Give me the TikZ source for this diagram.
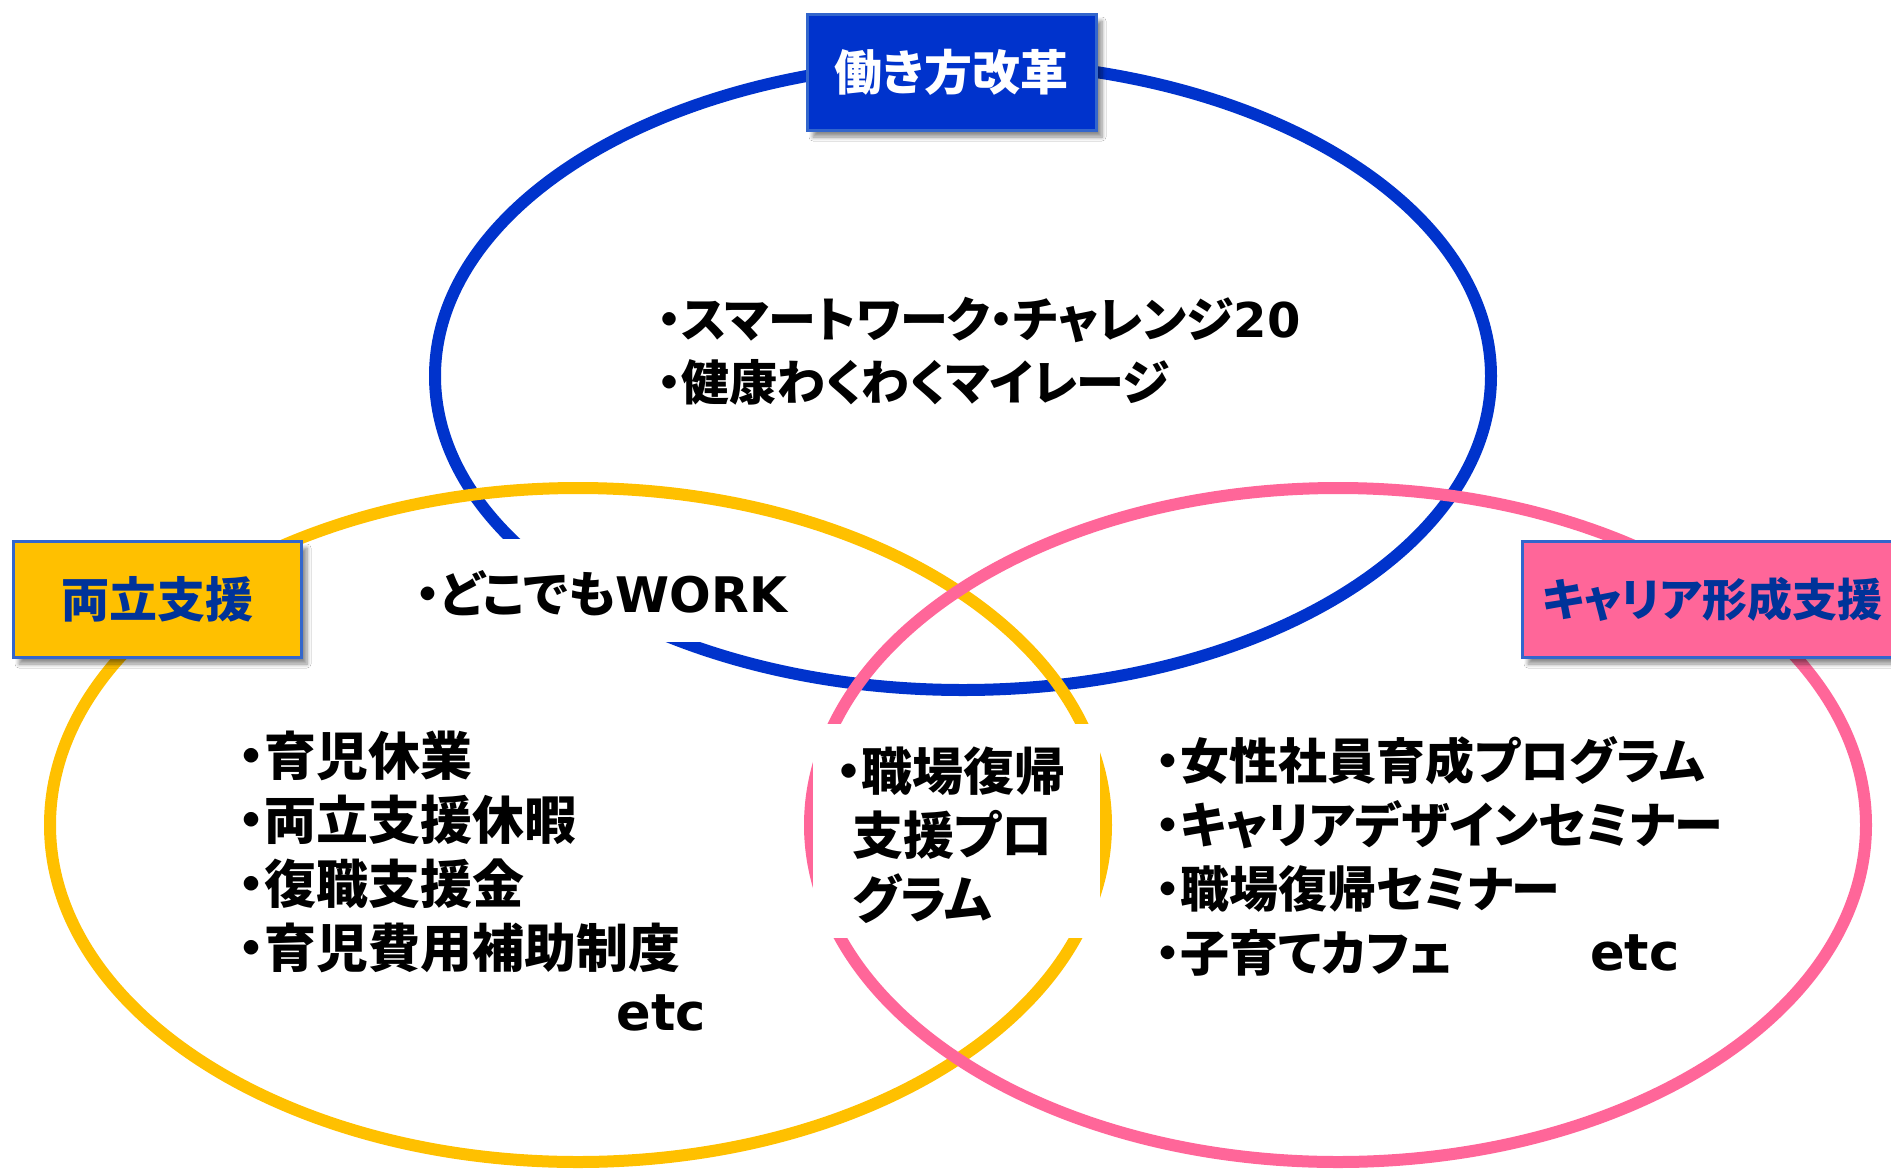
\documentclass[tikz,border=0pt]{standalone}
\usepackage{fontspec}
\setmainfont{Noto Sans CJK JP}[RawFeature=+palt]
\newfontfamily\lat{DejaVu Sans}
\usetikzlibrary{shapes.geometric,shadows.blur}
\definecolor{wblue}{HTML}{0033CC}
\definecolor{ryellow}{HTML}{FFC000}
\definecolor{cpink}{HTML}{FF6699}
\definecolor{edgeblue}{HTML}{3366CC}
\definecolor{navy}{HTML}{003399}
\begin{document}
\begin{tikzpicture}[x=1pt,y=-1pt,
  ring/.style={draw, ellipse, line width=12pt, inner sep=0pt, minimum width=1056pt},
  tagbox/.style={draw=edgeblue, line width=3pt, inner sep=0pt, minimum height=116pt,
     font=\fontsize{48}{48}\selectfont\bfseries,
     blur shadow={shadow xshift=6pt, shadow yshift=-7pt, shadow opacity=45, shadow blur steps=6, shadow blur radius=4pt}},
  bodytext/.style={font=\fontsize{51}{64}\selectfont\bfseries, align=left, inner sep=0pt, anchor=west, text=black},
  whitebox/.style={fill=white, draw=none, inner sep=0pt}]
\useasboundingbox (0,0) rectangle (1891,1168);
\fill[white] (0,0) rectangle (1891,1168);
% rings
\node[ring, draw=wblue, minimum height=628pt] (work) at (963,376) {};
\node[ring, draw=ryellow, minimum height=674pt] (balance) at (578,825) {};
\node[ring, draw=cpink, minimum height=674pt] (career) at (1338,825) {};
% white backgrounds of text boxes
\node[whitebox, minimum width=360pt, minimum height=103pt] (gapA) at (620,590.5) {};
\node[whitebox, minimum width=287pt, minimum height=214pt] (gapB) at (956.5,831) {};
% texts
\node[bodytext, font=\fontsize{48}{63}\selectfont\bfseries] (topText) at (657,351.5) {・スマートワーク・チャレンジ{\lat\bfseries 20}\\・健康わくわくマイレージ};
\node[bodytext, font=\fontsize{49}{64}\selectfont\bfseries] (anyText) at (416,593) {・どこでも{\lat\bfseries WORK}};
\node[bodytext, font=\fontsize{52}{64}\selectfont\bfseries] (leftText) at (238,852) {・育児休業\\・両立支援休暇\\・復職支援金\\・育児費用補助制度};
\node[bodytext, anchor=east] (etcL) at (706,1013) {\lat\bfseries etc};
\node[bodytext] (midText) at (836,835) {・職場復帰\\\hspace*{16pt}支援プロ\\\hspace*{16pt}グラム};
\node[bodytext, font=\fontsize{49}{64}\selectfont\bfseries] (rightText) at (1156,856.5) {・女性社員育成プログラム\\・キャリアデザインセミナー\\・職場復帰セミナー\\・子育てカフェ};
\node[bodytext] (etcR) at (1590,953) {\lat\bfseries etc};
% tag boxes
\node[tagbox, fill=wblue, text=white, minimum width=289pt] (tagWork) at (951.5,72) {働き方改革};
\node[tagbox, fill=ryellow, text=navy, minimum width=288pt] (tagBal) at (157,599) {両立支援};
\node[tagbox, fill=cpink, text=navy, minimum width=380pt, font=\fontsize{45}{45}\selectfont\bfseries] (tagCar) at (1712,599) {キャリア形成支援};
\end{tikzpicture}
\end{document}
